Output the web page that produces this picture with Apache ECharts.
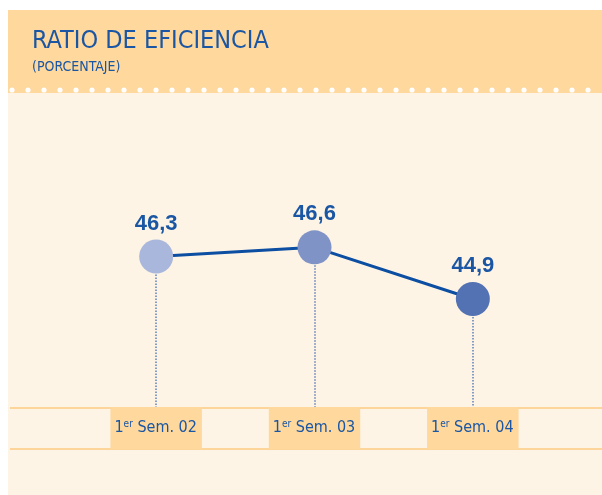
<!DOCTYPE html>
<html>
<head>
<meta charset="utf-8">
<script src="https://cdn.jsdelivr.net/npm/echarts@6/dist/echarts.min.js"></script>
<style>
  html, body { margin: 0; padding: 0; background: #fff; }
  #main { width: 602px; height: 495px; }
</style>
</head>
<body>
<div id="main"></div>
<script>
// datos del gráfico
var periodos = ['02', '03', '04'];          // 1er Sem. XX
var ratio = [46.3, 46.6, 44.9];              // ratio de eficiencia (%)
var coloresPunto = ['#aab7dc', '#8093c6', '#5272b4'];

var azul = '#1a56a3';
var naranja = '#fed89c';
var crema = '#fef4e5';
var fuente = '"Liberation Sans Narrow", "DejaVu Sans Condensed", sans-serif';

// fondo: cabecera, puntitos, panel crema y banda de etiquetas
var fondo = [
  { type: 'rect', shape: { x: 8, y: 10, width: 594, height: 83 }, style: { fill: naranja }, z: -10 },
  { type: 'rect', shape: { x: 8, y: 93, width: 594, height: 402 }, style: { fill: crema }, z: -10 },
  { type: 'rect', shape: { x: 10, y: 407, width: 592, height: 2 }, style: { fill: '#fdd49a' }, z: -9 },
  { type: 'rect', shape: { x: 10, y: 448, width: 592, height: 2 }, style: { fill: '#fdd49a' }, z: -9 }
];
for (var px = 12; px < 602; px += 16) {
  fondo.push({ type: 'circle', shape: { cx: px, cy: 90, r: 2.6 }, style: { fill: '#fff' }, z: -9 });
}

var myChart = echarts.init(document.getElementById('main'));
var option = {
  animation: false,
  graphic: fondo,
  title: {
    text: 'RATIO DE EFICIENCIA',
    subtext: '(PORCENTAJE)',
    left: 27,
    top: 24,
    itemGap: 6,
    textStyle: { color: azul, fontSize: 25, fontWeight: 'normal', fontFamily: fuente },
    subtextStyle: { color: azul, fontSize: 14, fontFamily: fuente }
  },
  grid: { left: 77, right: 50, top: 144, bottom: 47 },
  xAxis: {
    type: 'category',
    data: periodos,
    z: 5,
    axisLine: { show: false },
    axisTick: { show: false },
    axisLabel: {
      inside: true,
      margin: -1,
      formatter: function (v) { return '{a|1}{s|er}{a| Sem. ' + v + '}'; },
      backgroundColor: naranja,
      padding: [12, 5, 12, 4],
      rich: {
        a: { color: azul, fontSize: 16, fontFamily: fuente, lineHeight: 18 },
        s: { color: azul, fontSize: 10, fontFamily: fuente, lineHeight: 18, verticalAlign: 'top', padding: [0, 0, 8, 0] }
      }
    }
  },
  yAxis: {
    type: 'value',
    min: 40,
    max: 50,
    show: false,
    splitLine: { show: false }
  },
  series: [{
    type: 'line',
    z: 3,
    data: ratio.map(function (v, i) {
      return { value: v, itemStyle: { color: coloresPunto[i] } };
    }),
    symbol: 'circle',
    symbolSize: 34,
    lineStyle: { color: '#0b4ea2', width: 3 },
    label: {
      show: true,
      position: 'top',
      distance: 5,
      color: azul,
      fontSize: 22,
      fontWeight: 'bold',
      fontFamily: '"Liberation Sans", Arial, sans-serif',
      formatter: function (p) { return String(p.value).replace('.', ','); }
    },
    // líneas punteadas de cada punto hasta la banda, por debajo de los círculos
    markLine: {
      z: 1,
      silent: true,
      symbol: 'none',
      label: { show: false },
      lineStyle: { color: '#5d7fbb', type: 'dotted', width: 1.5 },
      data: ratio.map(function (v, i) {
        return [{ coord: [i, v] }, { coord: [i, 40] }];
      })
    }
  }]
};
myChart.setOption(option);
</script>
</body>
</html>
